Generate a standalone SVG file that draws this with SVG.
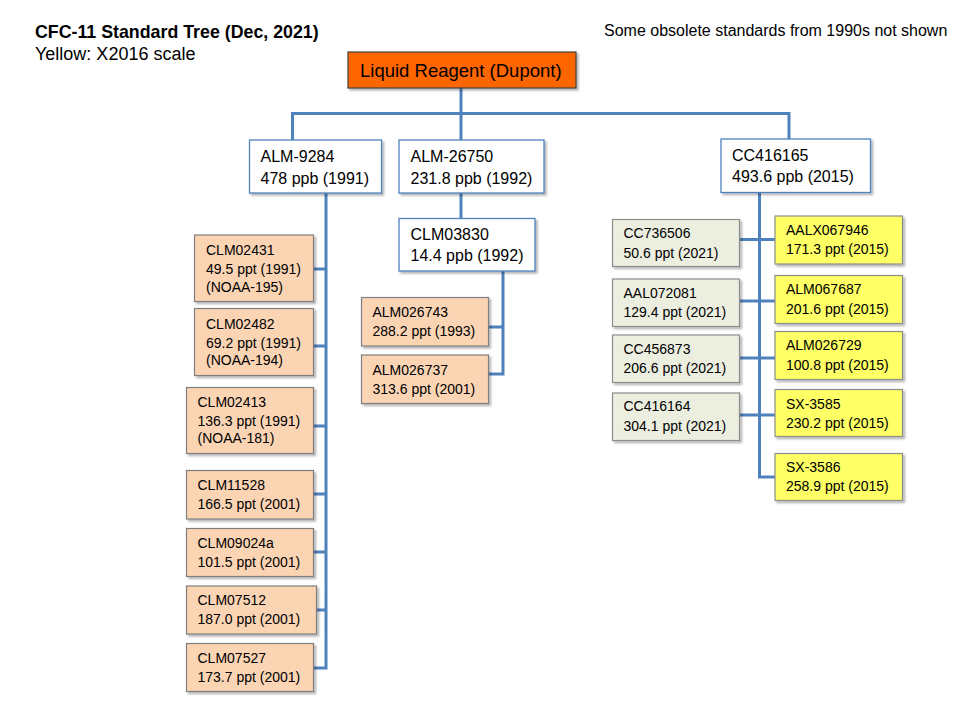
<svg xmlns="http://www.w3.org/2000/svg" width="977" height="721" viewBox="0 0 977 721">
<defs>
<filter id="sh" x="-10%" y="-10%" width="130%" height="130%">
<feDropShadow dx="2" dy="2" stdDeviation="1.2" flood-color="#000" flood-opacity="0.3"/>
</filter>
</defs>
<style>
text{font-family:"Liberation Sans",Arial,sans-serif;fill:#000}
.title{font-size:17.8px;font-weight:bold}
.sub{font-size:18px}
.note{font-size:16px}
.root rect{fill:#FF6600;stroke:#404040;stroke-width:1.2}
.root text{font-size:18.5px}
.w rect{fill:#fff;stroke:#4F81BD;stroke-width:1.3}
.w text{font-size:16px}
.o rect{fill:#FBD4B4;stroke:#7F7F7F;stroke-width:1.2}
.g rect{fill:#ECEEE0;stroke:#8C8C8C;stroke-width:1.2}
.y rect{fill:#FFFF66;stroke:#8C8C8C;stroke-width:1.2}
.o text,.g text,.y text{font-size:14px}
rect{filter:url(#sh)}
#connectors path{fill:none;stroke:#4F81BD;stroke-width:3}
</style>
<rect width="977" height="721" fill="#fff" style="filter:none"/>
<text class="title" x="35" y="38">CFC-11 Standard Tree (Dec, 2021)</text>
<text class="sub" x="35" y="60">Yellow: X2016 scale</text>
<text class="note" x="604" y="36">Some obsolete standards from 1990s not shown</text>

<g id="connectors">
<path d="M461 88V140"/>
<path d="M292.5 140V113.5H789V139"/>
<path d="M461 193V218"/>
<path d="M326 193V668H313"/>
<path d="M313 269H326M313 346H326M313 426H326M313 494H326M313 552H326M316.5 610H326"/>
<path d="M503 271V374H488"/>
<path d="M488 327H503"/>
<path d="M759.5 192V477H775"/>
<path d="M739 239.5H775M739 301H775M739 358H775M739 415H775"/>
</g>

<g id="n-root" class="root"><rect x="348" y="52" width="228" height="36"/><text x="360" y="77">Liquid Reagent (Dupont)</text></g>

<g id="n-alm9284" class="w"><rect x="249.5" y="140" width="132" height="53"/><text x="260.5" y="162">ALM-9284</text><text x="260.5" y="183.5">478 ppb (1991)</text></g>
<g id="n-alm26750" class="w"><rect x="399" y="140" width="145" height="53"/><text x="410.5" y="162">ALM-26750</text><text x="410.5" y="183.5">231.8 ppb (1992)</text></g>
<g id="n-clm03830" class="w"><rect x="399" y="218.5" width="136" height="52.5"/><text x="410.5" y="240">CLM03830</text><text x="410.5" y="261">14.4 ppb (1992)</text></g>
<g id="n-cc416165" class="w"><rect x="721" y="139" width="149.5" height="53.5"/><text x="732" y="161">CC416165</text><text x="732" y="182">493.6 ppb (2015)</text></g>

<g id="n-clm02431" class="o"><rect x="194.5" y="235" width="119" height="66.5"/><text x="206" y="255">CLM02431</text><text x="206" y="274">49.5 ppt (1991)</text><text x="206" y="292">(NOAA-195)</text></g>
<g id="n-clm02482" class="o"><rect x="194.5" y="308.5" width="119" height="67"/><text x="206" y="328.5">CLM02482</text><text x="206" y="347.5">69.2 ppt (1991)</text><text x="206" y="364.5">(NOAA-194)</text></g>
<g id="n-clm02413" class="o"><rect x="186.5" y="387.5" width="127" height="66"/><text x="197.5" y="407">CLM02413</text><text x="197.5" y="426">136.3 ppt (1991)</text><text x="197.5" y="443">(NOAA-181)</text></g>
<g id="n-clm11528" class="o"><rect x="186.5" y="470.5" width="127" height="48.5"/><text x="197.5" y="489.5">CLM11528</text><text x="197.5" y="509">166.5 ppt (2001)</text></g>
<g id="n-clm09024a" class="o"><rect x="186.5" y="528.5" width="127" height="48"/><text x="197.5" y="547.5">CLM09024a</text><text x="197.5" y="566.5">101.5 ppt (2001)</text></g>
<g id="n-clm07512" class="o"><rect x="186.5" y="586" width="130" height="48"/><text x="197.5" y="604.5">CLM07512</text><text x="197.5" y="624">187.0 ppt (2001)</text></g>
<g id="n-clm07527" class="o"><rect x="186.5" y="643.5" width="127" height="48"/><text x="197.5" y="663">CLM07527</text><text x="197.5" y="682">173.7 ppt (2001)</text></g>

<g id="n-alm026743" class="o"><rect x="361.5" y="297.5" width="127" height="48.5"/><text x="372.5" y="317">ALM026743</text><text x="372.5" y="335.5">288.2 ppt (1993)</text></g>
<g id="n-alm026737" class="o"><rect x="361.5" y="355" width="127" height="48.5"/><text x="372.5" y="375">ALM026737</text><text x="372.5" y="394">313.6 ppt (2001)</text></g>

<g id="n-cc736506" class="g"><rect x="612.5" y="219.5" width="127" height="47"/><text x="623.5" y="237.5">CC736506</text><text x="623.5" y="258">50.6 ppt (2021)</text></g>
<g id="n-aal072081" class="g"><rect x="612.5" y="279" width="127" height="47.5"/><text x="623.5" y="297.5">AAL072081</text><text x="623.5" y="317">129.4 ppt (2021)</text></g>
<g id="n-cc456873" class="g"><rect x="612.5" y="335" width="127" height="47.5"/><text x="623.5" y="353.5">CC456873</text><text x="623.5" y="373">206.6 ppt (2021)</text></g>
<g id="n-cc416164" class="g"><rect x="612.5" y="393" width="127" height="47.5"/><text x="623.5" y="411">CC416164</text><text x="623.5" y="430.5">304.1 ppt (2021)</text></g>

<g id="n-aalx067946" class="y"><rect x="775" y="216" width="127.5" height="48"/><text x="786" y="234.5">AALX067946</text><text x="786" y="254">171.3 ppt (2015)</text></g>
<g id="n-alm067687" class="y"><rect x="775" y="275.5" width="127.5" height="48"/><text x="786" y="294">ALM067687</text><text x="786" y="313.5">201.6 ppt (2015)</text></g>
<g id="n-alm026729" class="y"><rect x="775" y="331.5" width="127.5" height="48"/><text x="786" y="350">ALM026729</text><text x="786" y="369.5">100.8 ppt (2015)</text></g>
<g id="n-sx3585" class="y"><rect x="775" y="389.5" width="127.5" height="47"/><text x="786" y="408.5">SX-3585</text><text x="786" y="427.5">230.2 ppt (2015)</text></g>
<g id="n-sx3586" class="y"><rect x="775" y="453.5" width="127.5" height="47"/><text x="786" y="472">SX-3586</text><text x="786" y="491">258.9 ppt (2015)</text></g>
</svg>
